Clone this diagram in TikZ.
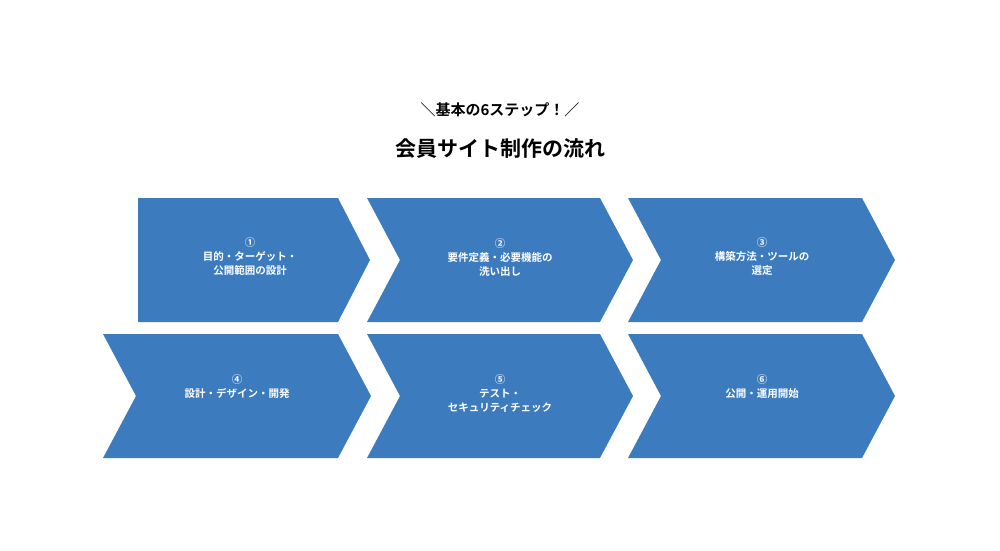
\documentclass[tikz,border=0pt]{standalone}
\usepackage{fontspec}
\setmainfont{Noto Sans CJK JP}[BoldFont={Noto Sans CJK JP Bold}]
\definecolor{stepblue}{HTML}{3B7BBE}
\tikzset{
 steptext/.style={text=white, font=\bfseries\fontsize{10.5pt}{14pt}\selectfont, align=center},
 headtext/.style={font=\bfseries\fontsize{#1}{#1}\selectfont}
}
\begin{document}
\begin{tikzpicture}[x=1pt, y=-1pt]
\useasboundingbox (0,0) rectangle (1000,550);

% title
\node[headtext=15pt] (sub) at (500,110) {＼基本の6ステップ！／};
\node[headtext=21pt] (title) at (500,149) {会員サイト制作の流れ};

% arrows, top row: left x, notch depth, right body x
\fill[stepblue] (138,198) -- (338,198) -- (370,260) -- (338,322) -- (138,322) -- cycle;
\foreach \l/\r in {367/600, 628/862}
 {
 \fill[stepblue] (\l,198) -- (\r,198) -- (\r+33,260) -- (\r,322) -- (\l,322) -- (\l+33,260) -- cycle;
 }
% bottom row
\foreach \l/\r in {103/338, 367/600, 628/862}
 {
 \fill[stepblue] (\l,334) -- (\r,334) -- (\r+33,396) -- (\r,458) -- (\l,458) -- (\l+33,396) -- cycle;
 }

% labels
\node[steptext] (one) at (250,257) {①\\目的・ターゲット・\\公開範囲の設計};
\node[steptext] (two) at (500,257) {②\\要件定義・必要機能の\\洗い出し};
\node[steptext] (three) at (762,257) {③\\構築方法・ツールの\\選定};
\node[steptext] (four) at (237,387) {④\\設計・デザイン・開発};
\node[steptext] (five) at (500,394) {⑤\\テスト・\\セキュリティチェック};
\node[steptext] (six) at (762,387) {⑥\\公開・運用開始};
\end{tikzpicture}
\end{document}
